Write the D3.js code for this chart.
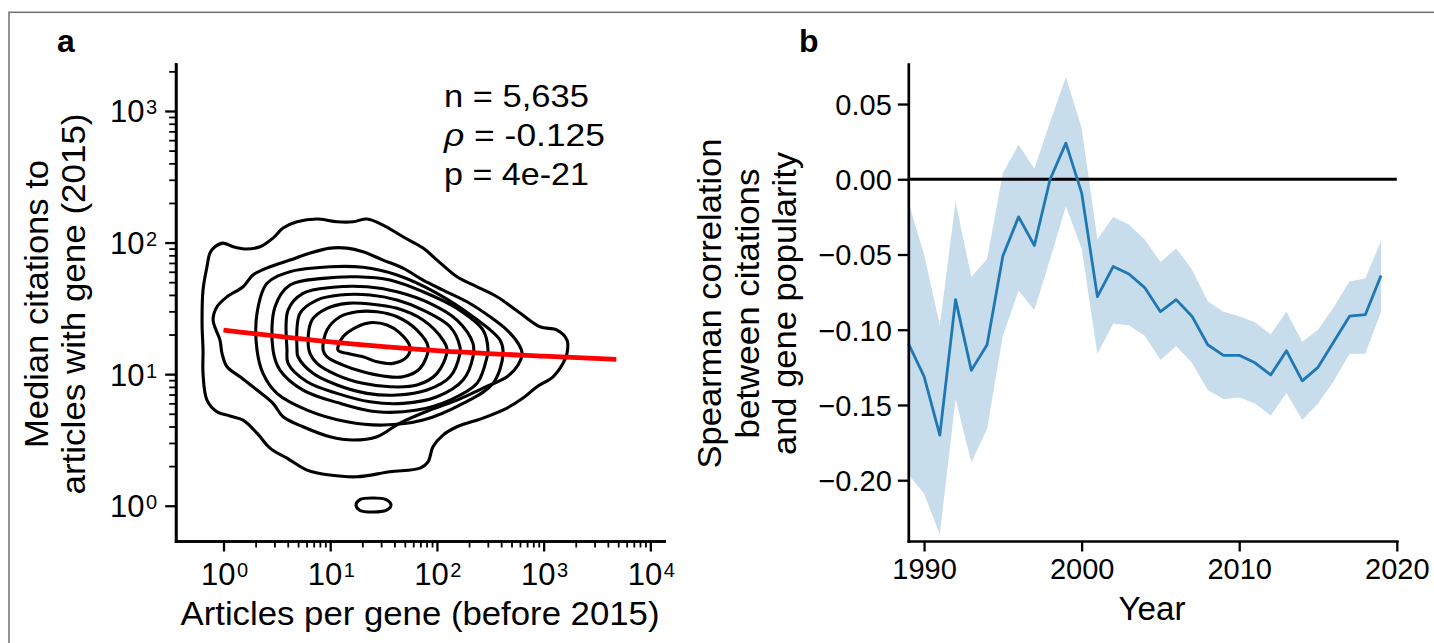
<!DOCTYPE html>
<html><head><meta charset="utf-8">
<script src="https://cdn.jsdelivr.net/npm/d3@7"></script>
<style>
html,body{margin:0;padding:0;background:#fff;}
svg{display:block;}
text{font-family:"Liberation Sans",Arial,sans-serif;fill:#000;}
</style></head><body>
<svg id="chart" width="1434" height="643"></svg>
<script>
// ---------------- Panel a data (log10 articles, log10 citations) ----------------
const contour1 = [[-0.08,1.968],[-0.005,1.996],[0.089,1.968],[0.201,1.951],[0.342,1.968],[0.464,2.034],[0.558,2.11],[0.689,2.158],[0.876,2.179],[1.064,2.158],[1.214,2.158],[1.345,2.179],[1.495,2.133],[1.682,2.044],[1.87,1.958],[2.001,1.867],[2.188,1.74],[2.376,1.664],[2.563,1.588],[2.779,1.464],[2.966,1.36],[3.126,1.335],[3.219,1.259],[3.219,1.158],[3.182,1.082],[3.088,0.98],[2.938,0.904],[2.807,0.818],[2.657,0.742],[2.432,0.666],[2.188,0.6],[2.057,0.537],[1.963,0.448],[1.917,0.334],[1.842,0.286],[1.56,0.258],[1.251,0.22],[0.998,0.233],[0.783,0.271],[0.595,0.362],[0.436,0.438],[0.314,0.552],[0.183,0.651],[0.061,0.682],[-0.061,0.714],[-0.155,0.803],[-0.192,1.006],[-0.192,1.183],[-0.201,1.388],[-0.192,1.639],[-0.155,1.816],[-0.127,1.92]];
const contour2 = [[-0.098,1.411],[-0.061,1.512],[0.033,1.588],[0.183,1.664],[0.276,1.753],[0.436,1.816],[0.623,1.867],[0.783,1.913],[0.998,1.958],[1.157,1.958],[1.307,1.93],[1.495,1.867],[1.682,1.806],[1.87,1.715],[2.057,1.639],[2.282,1.55],[2.498,1.436],[2.657,1.335],[2.76,1.236],[2.798,1.158],[2.76,1.069],[2.657,0.98],[2.432,0.894],[2.188,0.803],[1.935,0.727],[1.654,0.628],[1.439,0.524],[1.214,0.499],[0.998,0.524],[0.745,0.6],[0.558,0.676],[0.464,0.778],[0.314,0.879],[0.155,0.98],[0.033,1.056],[-0.014,1.158],[-0.033,1.259],[-0.07,1.335]];
const contour3 = [[0.314,1.183],[0.314,1.462],[0.408,1.69],[0.623,1.778],[0.998,1.816],[1.307,1.812],[1.626,1.753],[2.001,1.614],[2.338,1.436],[2.591,1.259],[2.62,1.158],[2.526,0.93],[2.245,0.778],[1.87,0.651],[1.495,0.613],[1.157,0.638],[0.783,0.727],[0.501,0.854],[0.37,1.006]];
const contour4 = [[0.464,1.183],[0.483,1.512],[0.623,1.677],[0.933,1.728],[1.251,1.74],[1.56,1.715],[1.87,1.626],[2.188,1.5],[2.432,1.335],[2.479,1.183],[2.47,1.132],[2.376,0.93],[2.123,0.803],[1.813,0.727],[1.439,0.714],[1.092,0.778],[0.745,0.879],[0.529,1.031]];
const contour5 = [[0.595,1.183],[0.605,1.487],[0.745,1.614],[1.026,1.66],[1.345,1.664],[1.626,1.626],[1.935,1.538],[2.188,1.411],[2.338,1.234],[2.338,1.132],[2.245,0.955],[2.001,0.828],[1.682,0.778],[1.373,0.79],[1.064,0.854],[0.783,0.942],[0.605,1.082]];
const contour6 = [[0.689,1.183],[0.717,1.462],[0.876,1.563],[1.092,1.601],[1.373,1.601],[1.626,1.563],[1.87,1.487],[2.123,1.36],[2.216,1.208],[2.216,1.158],[2.123,0.98],[1.907,0.879],[1.626,0.841],[1.345,0.854],[1.064,0.917],[0.839,1.006],[0.698,1.132]];
const contour7 = [[0.801,1.183],[0.829,1.411],[0.97,1.5],[1.157,1.538],[1.373,1.533],[1.626,1.5],[1.87,1.411],[2.057,1.259],[2.095,1.183],[2.001,1.006],[1.813,0.917],[1.56,0.904],[1.307,0.93],[1.064,0.993],[0.876,1.082]];
const contour8 = [[0.933,1.183],[0.97,1.335],[1.092,1.436],[1.251,1.474],[1.439,1.474],[1.626,1.436],[1.813,1.335],[1.917,1.208],[1.842,1.044],[1.682,0.98],[1.495,0.986],[1.307,1.018],[1.12,1.069],[0.97,1.132]];
const contour9 = [[1.073,1.183],[1.12,1.284],[1.251,1.36],[1.373,1.391],[1.532,1.373],[1.654,1.312],[1.748,1.208],[1.72,1.132],[1.589,1.082],[1.439,1.094],[1.307,1.132],[1.157,1.158]];
const contourIsland = [[1.242,0.005],[1.279,0.047],[1.401,0.059],[1.523,0.047],[1.57,0.005],[1.523,-0.036],[1.401,-0.048],[1.279,-0.036]];
const contours = [contour1, contour2, contour3, contour4, contour5, contour6, contour7, contour8, contour9, contourIsland];

const fitArticles = [1, 10, 100, 1000, 4800];
const fitCitations = [21.6, 17.6, 15.1, 13.7, 12.96];

const xMajorA = [1, 10, 100, 1000, 10000];
const yMajorA = [1, 10, 100, 1000];
const annotLines = ["n = 5,635", "= -0.125", "p = 4e-21"];

// ---------------- Panel b data ----------------
const years = [1989,1990,1991,1992,1993,1994,1995,1996,1997,1998,1999,2000,2001,2002,2003,2004,2005,2006,2007,2008,2009,2010,2011,2012,2013,2014,2015,2016,2017,2018,2019];
const rho = [-0.109,-0.131,-0.170,-0.080,-0.127,-0.110,-0.051,-0.025,-0.044,0.000,0.024,-0.009,-0.078,-0.058,-0.063,-0.072,-0.088,-0.080,-0.091,-0.110,-0.117,-0.117,-0.122,-0.130,-0.114,-0.134,-0.125,-0.108,-0.091,-0.090,-0.064];
const rhoUpper = [-0.015,-0.050,-0.097,-0.015,-0.065,-0.053,0.004,0.023,0.007,0.038,0.068,0.034,-0.040,-0.025,-0.030,-0.040,-0.055,-0.046,-0.060,-0.081,-0.088,-0.091,-0.095,-0.103,-0.088,-0.108,-0.100,-0.085,-0.068,-0.066,-0.041];
const rhoLower = [-0.196,-0.209,-0.236,-0.146,-0.188,-0.166,-0.104,-0.074,-0.087,-0.053,-0.018,-0.046,-0.116,-0.096,-0.097,-0.104,-0.120,-0.111,-0.122,-0.140,-0.146,-0.145,-0.149,-0.157,-0.142,-0.160,-0.149,-0.134,-0.116,-0.116,-0.088];
const yTicksB = [-0.20,-0.15,-0.10,-0.05,0.00,0.05];
const xTicksB = [1990,2000,2010,2020];

// ---------------- Drawing ----------------
const svg = d3.select("#chart");

svg.append("rect").attr("x",9).attr("y",12.3).attr("width",1500).attr("height",700)
  .attr("fill","none").attr("stroke","#707070").attr("stroke-width",1.5);

svg.append("text").attr("x",57).attr("y",52).attr("font-weight","bold").attr("font-size",32).text("a");
svg.append("text").attr("x",799).attr("y",52).attr("font-weight","bold").attr("font-size",32).text("b");

// ---- Panel a ----
const xA = d3.scaleLog().domain([Math.pow(10,-0.448), Math.pow(10,4.128)]).range([175.7, 664]);
const yA = d3.scaleLog().domain([Math.pow(10,-0.268), Math.pow(10,3.357)]).range([541, 64]);
const gA = svg.append("g");

const contourLine = d3.line()
  .x(d => xA(Math.pow(10, d[0])))
  .y(d => yA(Math.pow(10, d[1])))
  .curve(d3.curveCatmullRomClosed.alpha(0.5));
gA.selectAll("path.contour").data(contours).join("path")
  .attr("class","contour").attr("d", contourLine)
  .attr("fill","none").attr("stroke","#000").attr("stroke-width",3.1).attr("stroke-linejoin","round");

const fitData = fitArticles.map((a,i)=>[a, fitCitations[i]]);
gA.append("path").datum(fitData)
  .attr("d", d3.line().x(d=>xA(d[0])).y(d=>yA(d[1])).curve(d3.curveMonotoneX))
  .attr("fill","none").attr("stroke","#ff0000").attr("stroke-width",4.8);

function minorTicks(scale, maxDecade){
  const [lo, hi] = scale.domain();
  const out = [];
  for (let k = 0; k <= maxDecade; k++) for (let m = 2; m <= 9; m++) {
    const v = m * Math.pow(10, k);
    if (v >= lo && v <= hi) out.push(v);
  }
  return out;
}

function styleAxis(g){
  g.select(".domain").attr("stroke","#000").attr("stroke-width",2.7).attr("stroke-linecap","square");
  g.selectAll(".tick line").attr("stroke","#000");
}

const gxA = gA.append("g").attr("transform","translate(0,541)");
gxA.call(d3.axisBottom(xA).tickValues(minorTicks(xA,3)).tickSize(6.5).tickSizeOuter(0).tickFormat(""));
gxA.selectAll(".tick line").attr("stroke-width",1.8);
const gxA2 = gA.append("g").attr("transform","translate(0,541)");
gxA2.call(d3.axisBottom(xA).tickValues(xMajorA).tickSize(10.5).tickSizeOuter(0).tickFormat(""));
gxA2.selectAll(".tick line").attr("stroke-width",2.3);
styleAxis(gxA); styleAxis(gxA2);

const gyA = gA.append("g").attr("transform","translate(175.7,0)");
gyA.call(d3.axisLeft(yA).tickValues(minorTicks(yA,3)).tickSize(6.5).tickSizeOuter(0).tickFormat(""));
gyA.selectAll(".tick line").attr("stroke-width",1.8);
const gyA2 = gA.append("g").attr("transform","translate(175.7,0)");
gyA2.call(d3.axisLeft(yA).tickValues(yMajorA).tickSize(10.5).tickSizeOuter(0).tickFormat(""));
gyA2.selectAll(".tick line").attr("stroke-width",2.3);
styleAxis(gyA); styleAxis(gyA2);

function powLabel(sel){
  sel.each(function(d){
    const t = d3.select(this);
    t.append("tspan").attr("font-size",31).text("10");
    t.append("tspan").attr("font-size",20).attr("dx",1.5).attr("dy",-8).text(String(Math.round(Math.log10(d))));
  });
}
gA.selectAll("text.xtl").data(xMajorA).join("text").attr("class","xtl")
  .attr("x", d=>xA(d)+1).attr("y",585).attr("text-anchor","middle").call(powLabel);
gA.selectAll("text.ytl").data(yMajorA).join("text").attr("class","ytl")
  .attr("x",157).attr("y", d=>yA(d)+11.5).attr("text-anchor","end").call(powLabel);

function fitText(sel, len){
  sel.attr("textLength", len).attr("lengthAdjust","spacingAndGlyphs");
}

gA.append("text").attr("x",420).attr("y",625).attr("text-anchor","middle").attr("font-size",33)
  .text("Articles per gene (before 2015)").call(fitText, 479);
const ylabA = gA.append("g").attr("transform","translate(0,304) rotate(-90)");
ylabA.append("text").attr("x",0).attr("y",47.5).attr("text-anchor","middle").attr("font-size",33)
  .text("Median citations to").call(fitText, 288);
ylabA.append("text").attr("x",0).attr("y",84.5).attr("text-anchor","middle").attr("font-size",33)
  .text("articles with gene (2015)").call(fitText, 381);

const ann = gA.append("g").attr("font-size",32);
ann.append("text").attr("x",444).attr("y",106.7).text(annotLines[0]).call(fitText, 145);
const t2 = ann.append("text").attr("x",444).attr("y",146);
t2.append("tspan").attr("font-style","italic").text("\u03C1");
t2.append("tspan").text(" " + annotLines[1]);
t2.call(fitText, 161);
ann.append("text").attr("x",444).attr("y",185).text(annotLines[2]).call(fitText, 145);

// ---- Panel b ----
const xB = d3.scaleLinear().domain([1989, 2020]).range([908.3, 1396.8]);
const yB = d3.scaleLinear().domain([-0.2404, 0.0766]).range([541, 64]);
const gB = svg.append("g");
const bData = years.map((y,i)=>({y, v:rho[i], lo:rhoLower[i], hi:rhoUpper[i]}));

gB.append("path").datum(bData)
  .attr("d", d3.area().x(d=>xB(d.y)).y0(d=>yB(d.lo)).y1(d=>yB(d.hi)))
  .attr("fill","#1f77b4").attr("fill-opacity",0.25).attr("stroke","none");

gB.append("line").attr("x1",xB(1989)).attr("x2",xB(2020)).attr("y1",yB(0)).attr("y2",yB(0))
  .attr("stroke","#000").attr("stroke-width",2.8);

gB.append("path").datum(bData)
  .attr("d", d3.line().x(d=>xB(d.y)).y(d=>yB(d.v)))
  .attr("fill","none").attr("stroke","#1f77b4").attr("stroke-width",2.8).attr("stroke-linejoin","round");

const gyB = gB.append("g").attr("transform","translate(908.3,0)");
gyB.call(d3.axisLeft(yB).tickValues(yTicksB).tickSize(10.5).tickSizeOuter(0).tickPadding(6).tickFormat(d3.format(".2f")));
styleAxis(gyB);
gyB.selectAll(".tick line").attr("stroke-width",2.3);
gyB.selectAll(".tick text").attr("font-size",29).attr("font-family","Liberation Sans, Arial, sans-serif").attr("fill","#000").attr("dy",10.5);

const gxB = gB.append("g").attr("transform","translate(0,541)");
gxB.call(d3.axisBottom(xB).tickValues(xTicksB).tickSize(10.5).tickSizeOuter(0).tickPadding(6).tickFormat(d3.format("d")));
styleAxis(gxB);
gxB.selectAll(".tick line").attr("stroke-width",2.3);
gxB.selectAll(".tick text").attr("font-size",29).attr("font-family","Liberation Sans, Arial, sans-serif").attr("fill","#000").attr("dy",0).attr("y",37.8);

gB.append("text").attr("x",1152).attr("y",620).attr("text-anchor","middle").attr("font-size",33).text("Year").call(fitText, 67);
const ylabB = gB.append("g").attr("transform","translate(0,303.5) rotate(-90)");
ylabB.append("text").attr("x",0).attr("y",721).attr("text-anchor","middle").attr("font-size",33).text("Spearman correlation").call(fitText, 330);
ylabB.append("text").attr("x",0).attr("y",758.5).attr("text-anchor","middle").attr("font-size",33).text("between citations").call(fitText, 270);
ylabB.append("text").attr("x",0).attr("y",796).attr("text-anchor","middle").attr("font-size",33).text("and gene popularity").call(fitText, 303);
</script>
</body></html>
